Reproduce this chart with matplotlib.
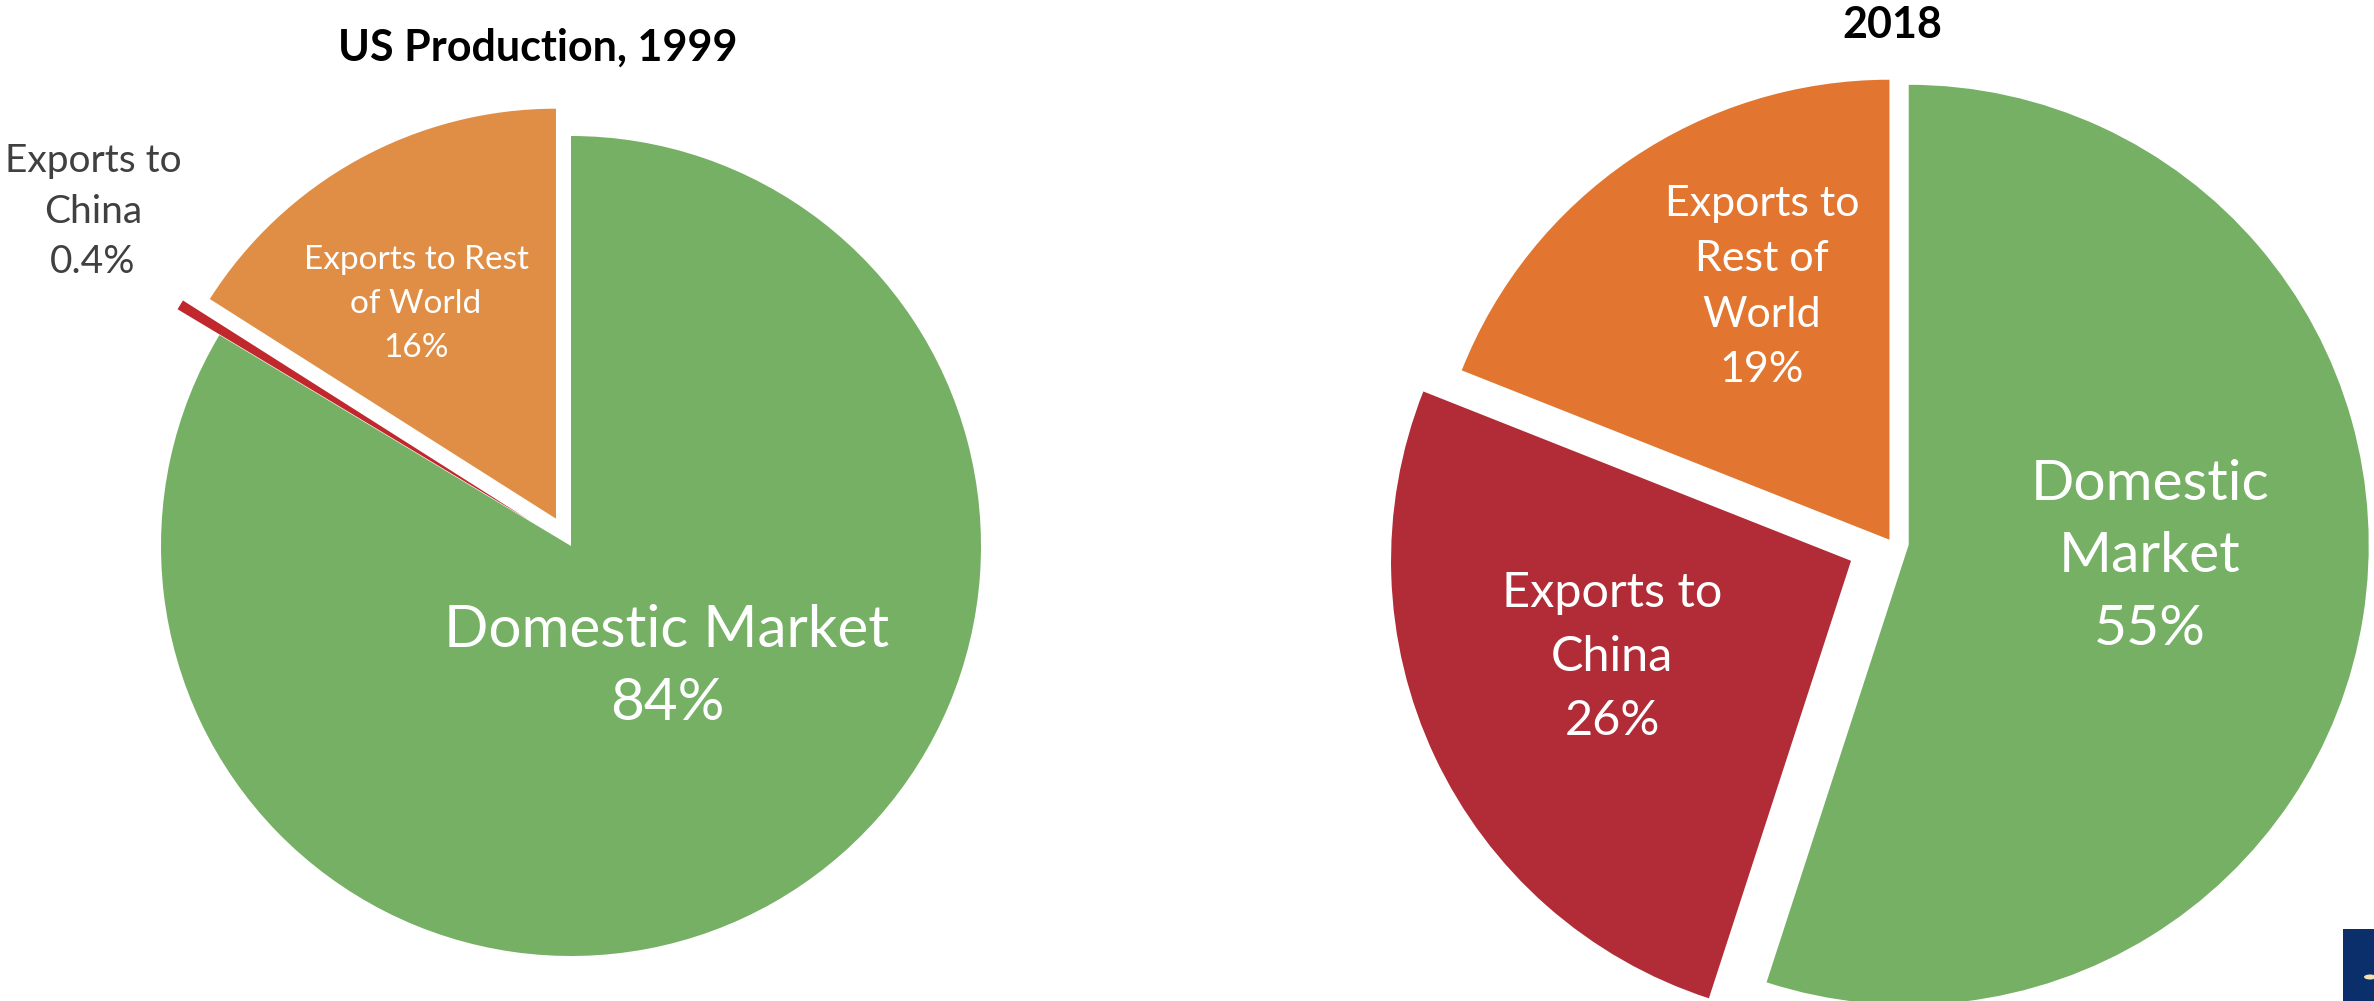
import matplotlib.pyplot as plt
from matplotlib.patches import Rectangle, Circle

plt.rcParams['font.family'] = ['Lato', 'DejaVu Sans']

W, H = 2374, 1001  # output size in pixels (dpi 100)

### Chart data
labels_1999 = ["Exports to Rest\nof World", "Exports to\nChina", "Domestic Market"]
shares_1999 = [16.0, 0.4, 83.6]
labels_2018 = ["Exports to\nRest of\nWorld", "Exports to\nChina", "Domestic\nMarket"]
shares_2018 = [19.0, 26.0, 55.0]

colors_1999 = ['#E08E45', '#C0282D', '#75B065']
colors_2018 = ['#E27630', '#B12C36', '#75B065']


def pct(v):
    return f"{v:.0f}%" if v >= 1 else f"{v:.1f}%"


fig = plt.figure(figsize=(W / 100, H / 100), dpi=100)
fig.patch.set_facecolor('white')


def pie_axes(cx, cy, r, half=600):
    # square axes centred on the pie (pixel coords, y from top), radius 1 = r px
    ax = fig.add_axes([(cx - half) / W, (H - cy - half) / H, 2 * half / W, 2 * half / H])
    return ax, half / r


def put(x, y, s, **kw):
    fig.text(x / W, 1 - y / H, s, ha='center', va='center', **kw)


#### 1999 pie
ax1, lim1 = pie_axes(571, 546, 410)
ax1.pie(shares_1999, colors=colors_1999, startangle=90, counterclock=True,
        explode=[0.076, 0.12, 0.0], wedgeprops=dict(linewidth=0))
ax1.set_xlim(-lim1, lim1)
ax1.set_ylim(-lim1, lim1)
ax1.axis('off')

put(538, 48, "US Production, 1999", fontsize=31, weight='bold', color='black')
put(416, 304, f"{labels_1999[0]}\n{pct(shares_1999[0])}", fontsize=24, color='white', linespacing=1.6)
put(93, 212, f"{labels_1999[1]}\n{pct(shares_1999[1])}", fontsize=28, color='#404040', linespacing=1.5)
put(667, 667, f"{labels_1999[2]}\n{pct(shares_1999[2])}", fontsize=42, color='white', linespacing=1.48)

#### 2018 pie
ax2, lim2 = pie_axes(1891, 542, 460)
ax2.pie(shares_2018, colors=colors_2018, startangle=90, counterclock=True,
        explode=[0.006, 0.096, 0.039], wedgeprops=dict(linewidth=0))
ax2.set_xlim(-lim2, lim2)
ax2.set_ylim(-lim2, lim2)
ax2.axis('off')

put(1892, 25, "2018", fontsize=31, weight='bold', color='black')
put(1762, 287, f"{labels_2018[0]}\n{pct(shares_2018[0])}", fontsize=31, color='white', linespacing=1.55)
put(1612, 657, f"{labels_2018[1]}\n{pct(shares_2018[1])}", fontsize=35, color='white', linespacing=1.55)
put(2150, 557, f"{labels_2018[2]}\n{pct(shares_2018[2])}", fontsize=41, color='white', linespacing=1.52)

# corner of a logo, cut off in the original
fig.patches.append(Rectangle((2343 / W, 0), 40 / W, 72 / H, transform=fig.transFigure,
                             facecolor='#0B2F6B', linewidth=0))
fig.patches.append(Circle((2370 / W, 24 / H), 6 / W, transform=fig.transFigure,
                          facecolor='#F4E3B0', linewidth=0))

plt.savefig('out.png', dpi=100, facecolor='white')
